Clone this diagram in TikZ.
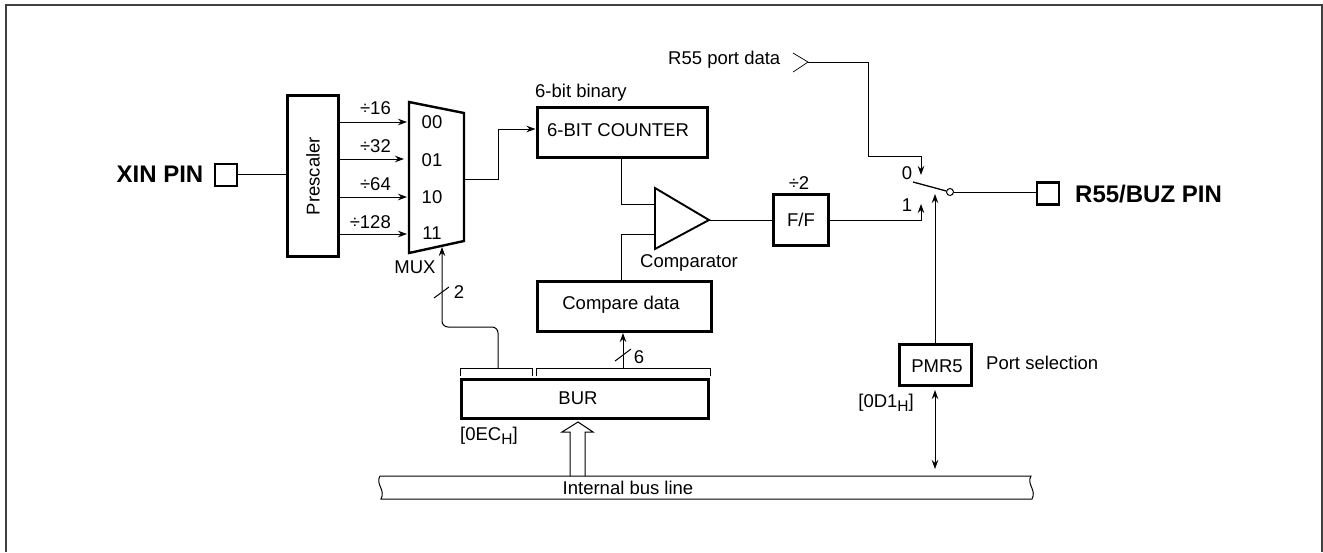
\documentclass[tikz,border=0pt]{standalone}
\usepackage{fontspec}
\setmainfont{Liberation Sans}
\usetikzlibrary{arrows.meta, positioning, calc}

\newcommand{\subH}{\raisebox{-3.5pt}{\fontsize{15.5}{15.5}\selectfont H}}

\begin{document}
\begin{tikzpicture}[
    x=1pt, y=-1pt,
    every node/.style={font=\fontsize{18.5}{21}\selectfont, inner sep=0pt},
    box/.style={draw, line width=3pt, align=center},
    pin/.style={draw, line width=2.8pt, minimum size=22pt},
    pinlabel/.style={font=\fontsize{24}{27}\selectfont\bfseries},
    wire/.style={line width=1pt},
    >={Stealth[length=9pt, width=6.5pt]}
  ]
  \useasboundingbox (0,0) rectangle (1323,552);

  % Frame
  \draw[line width=1.2pt, black!75] (6,552) -- (6,5) -- (1322,5) -- (1322,552);

  % Input side
  \node[pinlabel] (xinlabel) at (160,174) {XIN PIN};
  \node[pin] (xin) at (226,175) {};
  \node[box, minimum width=51pt, minimum height=161pt] (prescaler) at (313,176) {};
  \node[rotate=90] (prelabel) at (prescaler.center) {Prescaler};
  \draw[wire] (xin.east |- 0,174) -- (prescaler.west |- 0,174);

  % MUX
  \coordinate (muxtl) at (409,102);
  \coordinate (muxtr) at (464,113);
  \coordinate (muxbr) at (464,241);
  \coordinate (muxbl) at (409,253);
  \draw[line width=2.4pt] (muxtl) -- (muxtr) -- (muxbr) -- (muxbl) -- cycle;
  \node (sel00) at (432,122) {00};
  \node (sel01) at (432,160) {01};
  \node (sel10) at (432,197) {10};
  \node (sel11) at (432,233) {11};
  \node (muxlabel) at (415,267) {MUX};

  % Prescaler outputs
  \coordinate (in00) at (407,122);
  \coordinate (in01) at (404,159);
  \coordinate (in10) at (407,197);
  \coordinate (in11) at (407,234);
  \draw[wire, ->] (in00 -| prescaler.east) -- (in00);
  \draw[wire, ->] (in01 -| prescaler.east) -- (in01);
  \draw[wire, ->] (in10 -| prescaler.east) -- (in10);
  \draw[wire, ->] (in11 -| prescaler.east) -- (in11);
  \node[anchor=east] (div16) at (391,108) {÷16};
  \node[anchor=east] (div32) at (391,146) {÷32};
  \node[anchor=east] (div64) at (391,184) {÷64};
  \node[anchor=east] (div128) at (391,222) {÷128};

  % Counter and comparator
  \node[box, minimum width=170pt, minimum height=50pt] (counter) at (622,132.5) {};
  \node (counterlabel) at (618,130) {6-BIT COUNTER};
  \node[anchor=west] (binary) at (535,93) {6-bit binary};
  \draw[wire, ->] (465,179) -- (498,179) -- (498,129) -- (counter.west |- 0,129);

  \coordinate (cmpa) at (655,204);
  \coordinate (cmpb) at (655,234);
  \coordinate (cmpout) at (709,220);
  \draw[line width=1.9pt] (655,188) -- (cmpout) -- (655,249) -- cycle;
  \node (cmplabel) at (689,263) {Comparator};

  \node[box, minimum width=174pt, minimum height=50pt] (compare) at (624.5,306.5) {};
  \node (comparelabel) at (621,305) {Compare data};
  \draw[wire] (counter.south -| 621,0) |- (cmpa);
  \draw[wire] (compare.north -| 621,0) |- (cmpb);

  % F/F
  \node[box, minimum width=55pt, minimum height=51pt] (ff) at (801,220) {F/F};
  \node (ffdiv) at (799,183) {÷2};
  \draw[wire] (cmpout) -- (ff.west |- cmpout);

  % BUR
  \node[box, minimum width=247pt, minimum height=39pt] (bur) at (585,399) {};
  \node (burlabel) at (578,398) {BUR};
  \node[anchor=west] (buraddr) at (460,436) {[0EC\subH]};
  \coordinate (brleft) at (498,368);
  \coordinate (brright) at (623,368);
  \draw[wire] (460,376) -- (460,368) -- (532,368) -- (532,376);
  \draw[wire] (536,376) -- (536,368) -- (710,368) -- (710,376);
  \draw[wire, ->, rounded corners=6pt] (brleft) -- ++(0,-41) -| (442,247);
  \draw[wire, ->] (brright) -- (compare.south -| brright);
  \draw[wire] (434,298) -- (449,287);
  \draw[wire] (615,361) -- (631,349);
  \node (width2) at (459,292) {2};
  \node (width6) at (639,357) {6};

  % Internal bus
  \draw[wire] (380,476) -- (1031,476) .. controls (1026,484) and (1037,490) .. (1032,499)
    -- (381,499) .. controls (386,490) and (375,484) .. (380,476);
  \node (buslabel) at (628,488) {Internal bus line};
  \draw[wire] (570,476) -- (570,432) -- (562,432) -- (578,422) -- (593,432) -- (585,432) -- (585,476);

  % Port switch
  \node[draw, circle, wire, fill=white, minimum size=7pt] (sw) at (950,192) {};
  \draw[line width=1.3pt] (913,182) -- (sw);
  \node (sw0) at (907,173) {0};
  \node (sw1) at (907,205) {1};
  \node[pin] (buz) at (1048,193.5) {};
  \node[pinlabel, anchor=west] (buzlabel) at (1075,194) {R55/BUZ PIN};
  \draw[wire] (sw) -- (buz.west |- sw);
  \draw[wire, ->] (ff.east |- 0,220) -- (921,220) -- (921,204);

  % R55 port data
  \node[anchor=west] (r55label) at (668,60) {R55 port data};
  \coordinate (r55) at (808,62);
  \draw[line width=0.7pt] (793,53) -- (r55) -- (793,72);
  \draw[wire, ->] (r55) -- (868,62) -- (868,156) -- (921,156) -- (921,175);

  % Port selection
  \node[box, minimum width=72pt, minimum height=41pt] (pmr) at (935,365) {};
  \node (pmrlabel) at (937,366) {PMR5};
  \node[anchor=west] (portsel) at (986,363) {Port selection};
  \node[anchor=east] (pmraddr) at (914,403) {[0D1\subH]};
  \draw[wire, ->] (pmr.north) -- (935,194);
  \draw[wire, <->] (935,390) -- (935,469);
\end{tikzpicture}
\end{document}
